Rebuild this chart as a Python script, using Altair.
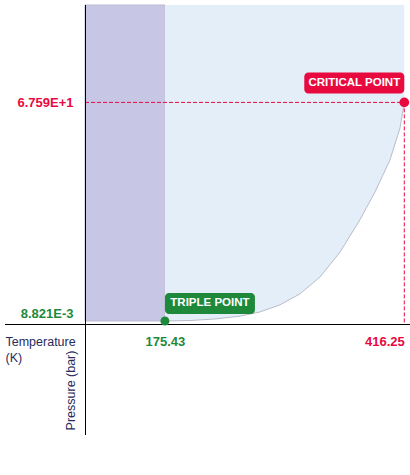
import altair as alt
import pandas as pd

# Phase boundary key points
T_TRIPLE, P_TRIPLE = 175.43, 0.008821
T_CRIT, P_CRIT = 416.25, 67.59

# Vapour-pressure (liquid/gas) curve from triple point to critical point
curve_T = [175.43, 200.59, 225.75, 250.91, 271.03, 291.16, 311.29, 331.41,
           351.54, 371.67, 386.76, 401.86, 411.92, 416.25]
curve_P = [0.008821, 0.16, 0.63, 1.5, 2.8, 5.0, 8.4, 13.6,
           21.3, 31.3, 39.9, 49.8, 59.6, 67.59]

T_DOMAIN = [95.0, 422.0]
P_DOMAIN = [-0.92, 97.7]

RED = "#e8093f"
GREEN = "#1f893b"
NAVY = "#2a2a5c"
FONT = "Liberation Sans"
W, H = 325, 319


def sci(v):
    mant, exp = f"{v:.3E}".split("E")
    return f"{mant}E{int(exp):+d}"


xscale = alt.Scale(domain=T_DOMAIN, nice=False, zero=False)
yscale = alt.Scale(domain=P_DOMAIN, nice=False, zero=False)

mid_T = (T_TRIPLE + T_CRIT) / 2
mid_P = (P_TRIPLE + P_CRIT) / 2

x_axis = alt.Axis(
    values=[T_TRIPLE, T_CRIT],
    labelExpr="format(datum.value, '.2f')",
    labelColor=alt.ExprRef(f"datum.value < {mid_T} ? '{GREEN}' : '{RED}'"),
    labelAlign=alt.ExprRef(f"datum.value < {mid_T} ? 'center' : 'right'"),
    labelFont=FONT, labelFontSize=13, labelFontWeight="bold",
    labelPadding=11, labelFlush=False, labelOverlap=False,
    ticks=False, domain=False, grid=False,
    title=["Temperature", "(K)"], titleX=-80, titleY=11,
    titleAlign="left", titleBaseline="top", titleFont=FONT,
    titleFontSize=12.5, titleFontWeight="normal", titleColor=NAVY,
    titleLineHeight=16,
)
y_axis = alt.Axis(
    values=[P_TRIPLE, P_CRIT],
    labelExpr=f"datum.value < {mid_P} ? '{sci(P_TRIPLE)}' : '{sci(P_CRIT)}'",
    labelColor=alt.ExprRef(f"datum.value < {mid_P} ? '{GREEN}' : '{RED}'"),
    labelBaseline=alt.ExprRef(f"datum.value < {mid_P} ? 'bottom' : 'middle'"),
    labelFont=FONT, labelFontSize=13, labelFontWeight="bold",
    labelPadding=12, labelFlush=False, labelOverlap=False,
    ticks=False, domain=False, grid=False,
    title="Pressure (bar)", titleAngle=270, titleX=-15, titleY=385,
    titleAlign="center", titleBaseline="middle", titleFont=FONT,
    titleFontSize=12.5, titleFontWeight="normal", titleColor=NAVY,
)


def X(field):
    return alt.X(field, type="quantitative", scale=xscale, axis=x_axis)


def Y(field):
    return alt.Y(field, type="quantitative", scale=yscale, axis=y_axis)


curve_df = pd.DataFrame({"T": curve_T, "P": curve_P, "top": P_DOMAIN[1]})
solid_df = pd.DataFrame({"T0": [T_DOMAIN[0]], "T1": [T_TRIPLE],
                         "P0": [P_TRIPLE], "P1": [P_DOMAIN[1]]})
crit_df = pd.DataFrame({"T": [T_CRIT], "P": [P_CRIT], "label": ["CRITICAL POINT"]})
trip_df = pd.DataFrame({"T": [T_TRIPLE], "P": [P_TRIPLE], "label": ["TRIPLE POINT"]})
frame_df = pd.DataFrame({"T": [T_DOMAIN[0]], "P": [P_DOMAIN[0]]})

# Solid region
solid = alt.Chart(solid_df).mark_rect(
    color="#c7c7e5", stroke="#b9b9d3", strokeWidth=1
).encode(x=X("T0"), x2="T1:Q", y=Y("P0"), y2="P1:Q")

# Liquid region above the vapour-pressure curve
liquid = alt.Chart(curve_df).mark_area(color="#e4eef9").encode(
    x=X("T"), y=Y("P"), y2="top:Q"
)
boundary = alt.Chart(curve_df).mark_line(color="#b8bccb", strokeWidth=1).encode(
    x=X("T"), y=Y("P")
)

# Axis cross
h_axis = alt.Chart(frame_df).mark_rule(color="black", strokeWidth=1, yOffset=0.5).encode(
    x=alt.value(-80), x2=alt.value(W), y=Y("P"),
)
v_axis = alt.Chart(frame_df).mark_rule(color="black", strokeWidth=1, xOffset=0.5).encode(
    x=X("T"), y=alt.value(0), y2=alt.value(H + 111),
)

# Dashed guides to the critical point
crit_guides = crit_df.assign(T0=T_DOMAIN[0], P0=P_DOMAIN[0])
h_dash = alt.Chart(crit_guides).mark_rule(color=RED, strokeWidth=1, strokeDash=[4, 2]).encode(
    x=X("T0"), x2="T:Q", y=Y("P"),
)
v_dash = alt.Chart(crit_guides).mark_rule(color=RED, strokeWidth=1, strokeDash=[4, 2]).encode(
    x=X("T"), y=Y("P"), y2="P0:Q",
)


def point_layers(df, color, size, box, text_d):
    enc = dict(x=X("T"), y=Y("P"))
    dot = alt.Chart(df).mark_circle(color=color, size=size, opacity=1).encode(**enc)
    badge = alt.Chart(df).mark_rect(
        color=color, cornerRadius=4,
        xOffset=box[0], x2Offset=box[1], yOffset=box[2], y2Offset=box[3],
    ).encode(x2="T:Q", y2="P:Q", **enc)
    label = alt.Chart(df).mark_text(
        color="white", font=FONT, fontSize=11.5, fontWeight="bold",
        align="center", baseline="middle", dx=text_d[0], dy=text_d[1],
    ).encode(text="label:N", **enc)
    return [dot, badge, label]


crit_layers = point_layers(crit_df, RED, 95, (-100, 0, -30, -9), (-50, -19.5))
trip_layers = point_layers(trip_df, GREEN, 80, (0, 90, -28, -7), (45, -17.5))

chart = alt.layer(
    solid, liquid, boundary, h_dash, v_dash, h_axis, v_axis,
    *trip_layers, *crit_layers,
).properties(
    width=W, height=H,
    padding={"left": 85, "top": 5, "right": 0, "bottom": 151},
    autosize=alt.AutoSizeParams(type="none"),
    background="white",
).configure_view(stroke=None)

chart.save("out.html", embed_options={"renderer": "svg", "actions": False})
